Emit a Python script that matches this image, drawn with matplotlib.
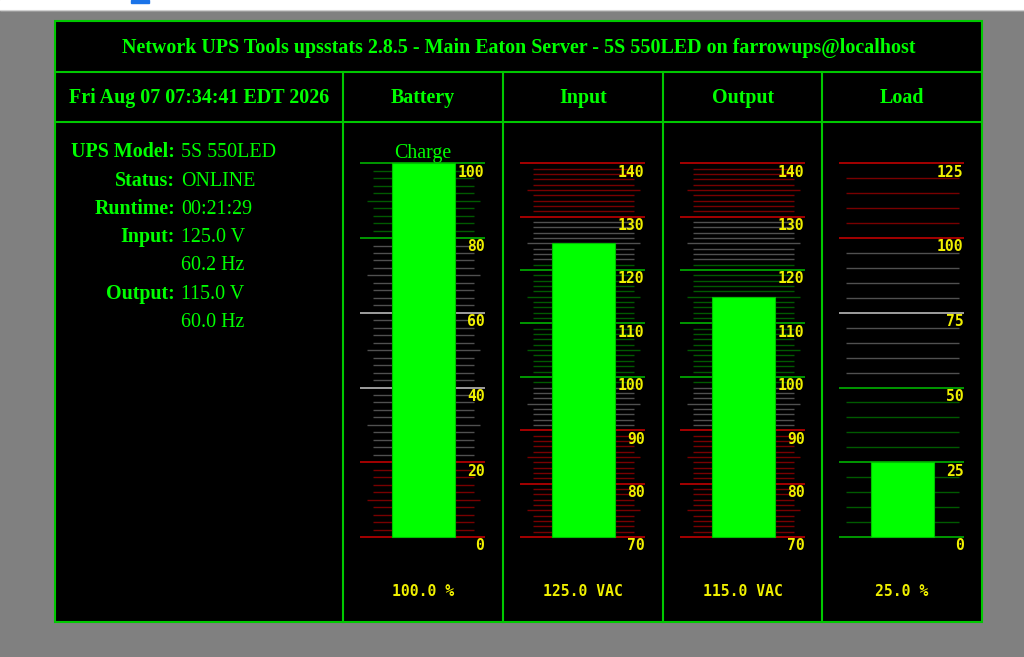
import matplotlib.pyplot as plt
import numpy as np

W, H = 1024, 657

title = 'Network UPS Tools upsstats 2.8.5 - Main Eaton Server - 5S 550LED on farrowups@localhost'
timestamp = 'Fri Aug 07 07:34:41 EDT 2026'
info_labels = ['UPS Model:', 'Status:', 'Runtime:', 'Input:', '', 'Output:', '']
info_values = ['5S 550LED', 'ONLINE', '00:21:29', '125.0 V', '60.2 Hz', '115.0 V', '60.0 Hz']

gauge_names = ['Battery', 'Input', 'Output', 'Load']
gauge_values = [100.0, 125.0, 115.0, 25.0]
gauge_units = ['%', 'VAC', 'VAC', '%']
gauge_lo = [0, 70, 70, 0]
gauge_hi = [100, 140, 140, 125]
minor_step = [2, 1, 1, 5]
mid_step = [10, 5, 5, 0]
major_step = [20, 10, 10, 25]
# colour zones of the scales
red_below = [20, 90, 90, None]
red_above = [None, 130, 130, 100]
green_zone = [(80, 100), (99, 121), (99, 121), (0, 50)]

GREEN = '#00ff00'
BORDER = '#00c800'
YELLOW = '#f0f000'
SERIF = 'Liberation Serif'
MONO = 'DejaVu Sans Mono'
FS = 14.4

col_lines = [343, 503, 663, 822]
col_centers = [423, 583, 743, 902]
gauge_left = [360, 520, 680, 839]
gauge_top, gauge_bot = 163.3, 537
minor_ext = [(13, 114), (13, 114), (13, 114), (7, 120)]


def zone(i, v):
    if (red_below[i] is not None and v <= red_below[i]) or \
       (red_above[i] is not None and v >= red_above[i]):
        return 'red'
    g0, g1 = green_zone[i]
    if g0 <= v <= g1:
        return 'green'
    return 'gray'


major_col = {'red': '#d00000', 'green': '#00c000', 'gray': '#c8c8c8'}
minor_col = {'red': '#780000', 'green': '#005a00', 'gray': '#505050'}

fig = plt.figure(figsize=(W / 100, H / 100), dpi=100)
fig.patch.set_facecolor('#808080')
ax = fig.add_axes([0, 0, 1, 1])
ax.set_xlim(0, W)
ax.set_ylim(H, 0)
ax.axis('off')

# browser strip on top
ax.add_patch(plt.Rectangle((0, 0), W, 9.5, color='white', zorder=0))
ax.plot([0, W], [9.5, 9.5], color='#d0d0d0', lw=0.8)
ax.add_patch(plt.Rectangle((131, 0), 18, 2.5, color='#1a73e8'))

# table
ax.add_patch(plt.Rectangle((55, 20.5), 927, 601.5, facecolor='black',
                           edgecolor=BORDER, lw=1.5))
ax.plot([55, 982], [72, 72], color=BORDER, lw=1.5)
ax.plot([55, 982], [122, 122], color=BORDER, lw=1.5)
for x in col_lines:
    ax.plot([x, x], [72, 622], color=BORDER, lw=1.5)

ax.text(518.5, 52.7, title, color=GREEN, family=SERIF, weight='bold',
        fontsize=FS, ha='center', va='baseline')
ax.text(199, 102.7, timestamp, color=GREEN, family=SERIF, weight='bold',
        fontsize=FS, ha='center', va='baseline')
for name, cx in zip(gauge_names, col_centers):
    ax.text(cx, 102.7, name, color=GREEN, family=SERIF, weight='bold',
            fontsize=FS, ha='center', va='baseline')

for k, (lab, val) in enumerate(zip(info_labels, info_values)):
    yb = 157.3 + k * 28.3
    ax.text(175, yb, lab, color=GREEN, family=SERIF, weight='bold',
            fontsize=FS, ha='right', va='baseline')
    ax.text(181, yb, val, color=GREEN, family=SERIF,
            fontsize=FS, ha='left', va='baseline')

ax.text(423, 158, 'Charge', color=GREEN, family=SERIF, fontsize=FS,
        ha='center', va='baseline')

# gauges
for i in range(4):
    x0 = gauge_left[i]
    gax = fig.add_axes([x0 / W, 1 - gauge_bot / H, 125 / W,
                        (gauge_bot - gauge_top) / H])
    gax.set_xlim(0, 125)
    gax.set_ylim(gauge_lo[i], gauge_hi[i])
    gax.axis('off')
    lo, hi = gauge_lo[i], gauge_hi[i]
    for v in np.arange(lo, hi + minor_step[i] / 2, minor_step[i]):
        if (v - lo) % major_step[i] == 0:
            gax.hlines(v, 0, 125, color=major_col[zone(i, v)], lw=1.1,
                       clip_on=False, zorder=1)
            gax.annotate('%d' % v, (124.5, v), xytext=(0, -9.6),
                         textcoords='offset points', ha='right',
                         va='baseline', color=YELLOW, family=MONO,
                         weight='bold', fontsize=10.6, zorder=3)
        elif mid_step[i] and (v - lo) % mid_step[i] == 0:
            gax.hlines(v, 7, 120, color=minor_col[zone(i, v)], lw=1.0,
                       clip_on=False, zorder=1)
        else:
            gax.hlines(v, minor_ext[i][0], minor_ext[i][1],
                       color=minor_col[zone(i, v)], lw=1.0,
                       clip_on=False, zorder=1)
    gax.bar(63.5, gauge_values[i] - lo, width=63, bottom=lo, color=GREEN,
            edgecolor='#00c000', lw=0.8, clip_on=False, zorder=2)

    ax.text(col_centers[i], 596, '%.1f %s' % (gauge_values[i], gauge_units[i]),
            color=YELLOW, family=MONO, weight='bold', fontsize=10.6,
            ha='center', va='baseline')

plt.savefig('out.png', dpi=100, facecolor=fig.get_facecolor())
